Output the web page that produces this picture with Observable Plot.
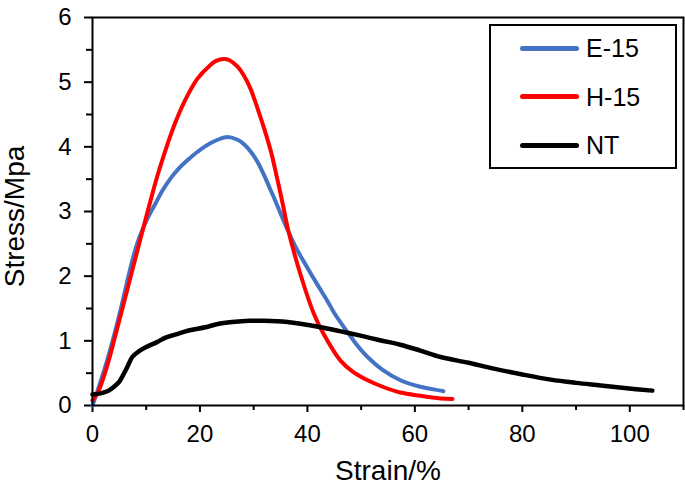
<!DOCTYPE html>
<html>
<head>
<meta charset="utf-8">
<script src="https://cdn.jsdelivr.net/npm/d3@7"></script>
<script src="https://cdn.jsdelivr.net/npm/@observablehq/plot@0.6"></script>
<style>
  html, body { margin: 0; padding: 0; background: #fff; }
  #chart { position: relative; width: 685px; height: 496px; font-family: "Liberation Sans", Arial, sans-serif; }
  #legend { position: absolute; left: 489px; top: 24px; width: 184px; height: 141px; border: 2px solid #000; background: #fff; }
  .item { position: absolute; left: 29px; display: flex; align-items: center; font-size: 25px; line-height: 26px; color: #000; }
  .swatch { width: 59px; height: 5px; border-radius: 3px; margin-right: 7px; }
</style>
</head>
<body>
<div id="chart"></div>
<script>
// ---- data ----
const seriesNames = ["E-15", "H-15", "NT"];
const seriesColors = ["#4472C4", "#FF0000", "#000000"];

const e15Strain = [0, 1, 2, 2.7, 4, 5.2, 6.3, 7.4, 8.3, 9.2, 10.4, 11.7, 13, 14.6, 16, 17.5, 19.5, 22, 24.8, 27, 28.2, 29.5, 30.7, 32, 33, 34, 35.2, 36.4, 38, 40, 42, 43.7, 45, 46.8, 49, 51.2, 54, 57.3, 61, 64.8, 65.3];
const e15Stress = [0.0, 0.24, 0.5, 0.69, 1.08, 1.47, 1.86, 2.24, 2.5, 2.7, 2.92, 3.12, 3.32, 3.52, 3.66, 3.78, 3.92, 4.06, 4.15, 4.11, 4.04, 3.92, 3.77, 3.55, 3.36, 3.17, 2.93, 2.7, 2.42, 2.13, 1.85, 1.62, 1.43, 1.21, 0.96, 0.75, 0.55, 0.39, 0.29, 0.23, 0.22];

const h15Strain = [0, 1, 2, 3, 4, 5, 6, 7, 8, 9, 10, 11, 12, 13, 14, 15.2, 17, 19.5, 22, 23, 24.4, 25.5, 27, 28.2, 29.4, 30.7, 32, 33.2, 34.4, 35.4, 36.4, 38.7, 41.2, 43, 46.2, 48.5, 51.2, 54, 57.3, 61, 64.8, 67];
const h15Stress = [0.08, 0.2, 0.42, 0.69, 1.0, 1.32, 1.64, 1.96, 2.28, 2.6, 2.92, 3.23, 3.53, 3.8, 4.05, 4.33, 4.68, 5.05, 5.27, 5.33, 5.36, 5.34, 5.24, 5.1, 4.9, 4.6, 4.27, 3.93, 3.5, 3.12, 2.72, 2.03, 1.42, 1.11, 0.69, 0.52, 0.39, 0.29, 0.2, 0.15, 0.11, 0.1];

const ntStrain = [0, 1, 2, 3, 4, 5, 5.5, 6.5, 7.4, 8.5, 9.9, 12, 13.6, 15.5, 17.9, 21, 23.3, 26, 29.2, 32, 36.3, 39, 42.5, 46, 49.9, 53.5, 57.3, 61, 64.8, 70, 74.7, 80, 85.3, 90, 94.6, 99, 104.2];
const ntStress = [0.17, 0.18, 0.2, 0.23, 0.29, 0.37, 0.44, 0.6, 0.75, 0.83, 0.9, 0.98, 1.05, 1.1, 1.16, 1.21, 1.26, 1.29, 1.31, 1.31, 1.29, 1.26, 1.21, 1.15, 1.08, 1.01, 0.94, 0.85, 0.75, 0.66, 0.57, 0.48, 0.4, 0.35, 0.31, 0.27, 0.23];

const xMajor = [0, 20, 40, 60, 80, 100];
const xMinor = [10, 30, 50, 70, 90, 110];
const yMajor = [0, 1, 2, 3, 4, 5, 6];
const yMinor = [0.5, 1.5, 2.5, 3.5, 4.5, 5.5];
const xTitle = "Strain/%";
const yTitle = "Stress/Mpa";

// ---- build table ----
const strains = [e15Strain, h15Strain, ntStrain];
const stresses = [e15Stress, h15Stress, ntStress];
const rows = [];
seriesNames.forEach((name, i) => {
  strains[i].forEach((x, j) => rows.push({series: name, strain: x, stress: stresses[i][j]}));
});

const font = "'Liberation Sans', Arial, sans-serif";

const plot = Plot.plot({
  width: 685,
  height: 496,
  marginLeft: 92,
  marginRight: 2,
  marginTop: 17,
  marginBottom: 91,
  style: {fontFamily: font, fontSize: "24px", color: "#000", background: "#fff", overflow: "visible"},
  x: {domain: [0, 110]},
  y: {domain: [0, 6]},
  color: {domain: seriesNames, range: seriesColors},
  marks: [
    Plot.axisX({ticks: xMajor, tickSize: 7, tickPadding: 12, strokeWidth: 2, label: null, fontSize: 24, tickFormat: d => String(d)}),
    Plot.axisX({ticks: xMinor, tickSize: 5, tickFormat: () => "", strokeWidth: 2, label: null}),
    Plot.axisY({ticks: yMajor, tickSize: 8, tickPadding: 13, strokeWidth: 2, label: null, fontSize: 24, tickFormat: d => String(d)}),
    Plot.axisY({ticks: yMinor, tickSize: 6, tickFormat: () => "", strokeWidth: 2, label: null}),
    Plot.line(rows, {x: "strain", y: "stress", z: "series", stroke: "series",
      strokeWidth: d => d.series === "NT" ? 4.5 : 4, curve: "catmull-rom", strokeLinecap: "round", strokeLinejoin: "round"}),
    Plot.frame({stroke: "#000", strokeWidth: 2}),
    Plot.text([xTitle], {frameAnchor: "bottom", dy: 74, fontSize: 28, fontFamily: font, fill: "#000"}),
    Plot.text([yTitle], {frameAnchor: "left", textAnchor: "middle", dx: -77, dy: 5, rotate: -90, fontSize: 28, fontFamily: font, fill: "#000"})
  ]
});

const chart = document.getElementById("chart");
chart.appendChild(plot);

const legend = document.createElement("div");
legend.id = "legend";
seriesNames.forEach((name, i) => {
  const item = document.createElement("div");
  item.className = "item";
  item.style.top = (9 + i * 48.5) + "px";
  const sw = document.createElement("div");
  sw.className = "swatch";
  sw.style.background = seriesColors[i];
  const lab = document.createElement("span");
  lab.textContent = name;
  item.appendChild(sw);
  item.appendChild(lab);
  legend.appendChild(item);
});
chart.appendChild(legend);
</script>
</body>
</html>
